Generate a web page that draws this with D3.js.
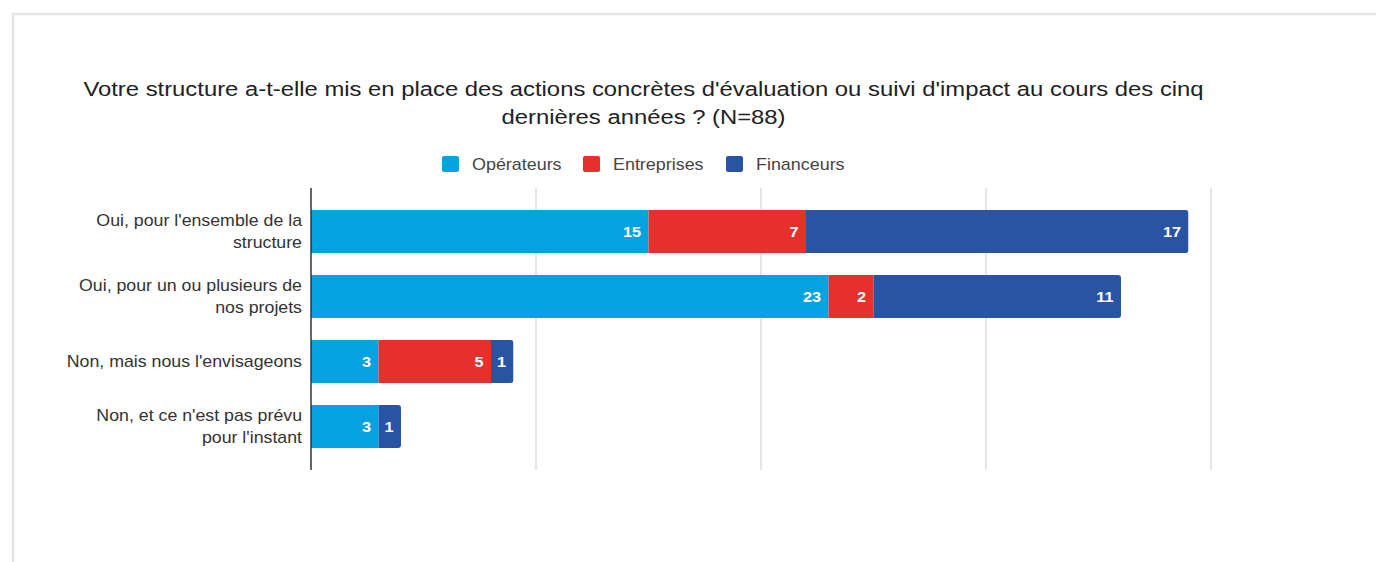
<!DOCTYPE html>
<html>
<head>
<meta charset="utf-8">
<script src="https://cdn.jsdelivr.net/npm/d3@7"></script>
<style>
  html, body { margin: 0; padding: 0; background: #fff; }
  svg { display: block; font-family: "Liberation Sans", Arial, sans-serif; }
</style>
</head>
<body>
<svg id="chart" width="1376" height="562"></svg>
<script>
// Survey answers (N=88), split by respondent type
const categories = [
  ["Oui, pour l'ensemble de la", "structure"],
  ["Oui, pour un ou plusieurs de", "nos projets"],
  ["Non, mais nous l'envisageons"],
  ["Non, et ce n'est pas prévu", "pour l'instant"]
];
const seriesNames = ["Opérateurs", "Entreprises", "Financeurs"];
const operateurs  = [15, 23, 3, 3];
const entreprises = [7, 2, 5, 0];
const financeurs  = [17, 11, 1, 1];
const xTicks = [0, 10, 20, 30, 40];
const titleLines = [
  "Votre structure a-t-elle mis en place des actions concrètes d'évaluation ou suivi d'impact au cours des cinq",
  "dernières années ? (N=88)"
];

const colors = ["#05a2e1", "#e5302d", "#2954a3"];
const series = [operateurs, entreprises, financeurs];
const stretch = 1.11;   // slightly wide lettering

const svg = d3.select("#chart");

// card frame
svg.append("rect")
  .attr("x", 13).attr("y", 14).attr("width", 1400).attr("height", 600)
  .attr("fill", "#fff").attr("stroke", "#e6e6e6").attr("stroke-width", 2.5);

// title
svg.append("g").selectAll("text").data(titleLines).join("text")
  .attr("transform", (d, i) => `translate(643.5,${96 + i * 27.5}) scale(1.135,1)`)
  .attr("text-anchor", "middle")
  .attr("font-size", 21).attr("fill", "#222")
  .text(d => d);

// legend
const legendX = [442, 583, 726];
const legend = svg.append("g").selectAll("g").data(seriesNames).join("g")
  .attr("transform", (d, i) => `translate(${legendX[i]},156)`);
legend.append("rect").attr("width", 17).attr("height", 16).attr("rx", 2).attr("fill", (d, i) => colors[i]);
legend.append("text")
  .attr("transform", `translate(30,14) scale(1.12,1)`)
  .attr("font-size", 16).attr("fill", "#444").text(d => d);

// scales
const x = d3.scaleLinear().domain([0, 40]).range([311, 1211]);
const y = d3.scaleBand().domain(d3.range(categories.length)).range([188, 470]).paddingInner(0.338).paddingOuter(0.338);

// gridlines
svg.append("g").selectAll("line").data(xTicks.slice(1)).join("line")
  .attr("x1", d => x(d)).attr("x2", d => x(d))
  .attr("y1", 188).attr("y2", 470)
  .attr("stroke", "#dcdcdc").attr("stroke-width", 1.5);

// stacked data
const rows = categories.map((c, i) => {
  let acc = 0;
  return series.map((s, k) => {
    const seg = { row: i, k, v: s[i], x0: acc, x1: acc + s[i] };
    acc += s[i];
    return seg;
  });
});

const defs = svg.append("defs");
rows.forEach((segs, i) => {
  const total = segs[segs.length - 1].x1;
  defs.append("clipPath").attr("id", "bar" + i)
    .append("rect")
    .attr("x", x(0) - 5).attr("y", y(i))
    .attr("width", x(total) - x(0) + 5).attr("height", y.bandwidth())
    .attr("rx", 3);
});

const bars = svg.append("g").selectAll("g").data(rows).join("g")
  .attr("clip-path", (d, i) => `url(#bar${i})`);

bars.selectAll("rect").data(d => d.filter(s => s.v > 0)).join("rect")
  .attr("x", d => x(d.x0)).attr("y", d => y(d.row))
  .attr("width", d => x(d.x1) - x(d.x0)).attr("height", y.bandwidth())
  .attr("fill", d => colors[d.k]);

bars.selectAll("text").data(d => d.filter(s => s.v > 0)).join("text")
  .attr("transform", d => `translate(${x(d.x1) - 7.5},${y(d.row) + y.bandwidth() / 2 + 5.5}) scale(1.05,1)`)
  .attr("text-anchor", "end")
  .attr("font-size", 15.5).attr("font-weight", "bold").attr("fill", "#fff")
  .text(d => d.v);

// category labels
const catLabels = svg.append("g").selectAll("g").data(categories).join("g");
catLabels.each(function(lines, i) {
  const cy = y(i) + y.bandwidth() / 2;
  const lh = 22;
  const top = cy - (lines.length - 1) * lh / 2;
  d3.select(this).selectAll("text").data(lines).join("text")
    .attr("transform", (d, j) => `translate(302,${top + j * lh + 5.5}) scale(${stretch},1)`)
    .attr("text-anchor", "end").attr("font-size", 16).attr("fill", "#333")
    .text(d => d);
});

// baseline axis
svg.append("line")
  .attr("x1", x(0)).attr("x2", x(0)).attr("y1", 188).attr("y2", 470)
  .attr("stroke", "#333").attr("stroke-width", 1.5);
</script>
</body>
</html>
